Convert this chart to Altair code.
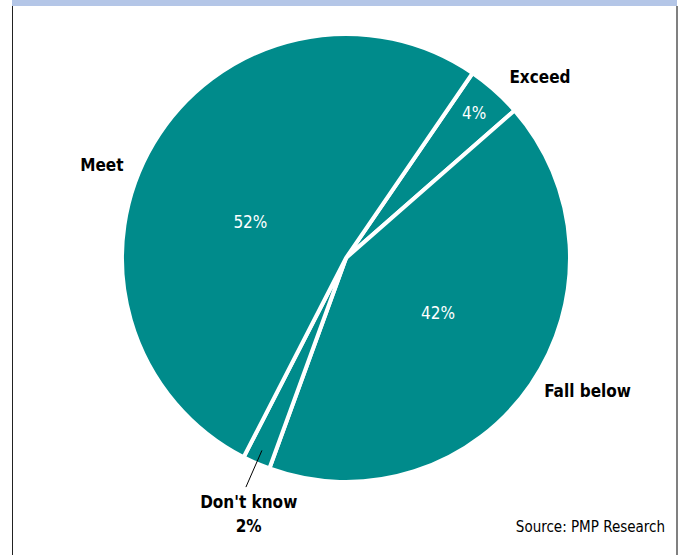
import math
import altair as alt
import pandas as pd

# ---- data ----
categories = ["Exceed", "Fall below", "Don't know", "Meet"]
values = [4, 42, 2, 52]
pct_labels = ["4%", "42%", "2%", "52%"]
source_note = ["Source: PMP Research"]

df = pd.DataFrame({
    "cat": categories,
    "value": values,
    "pct": pct_labels,
    "order": list(range(len(categories))),
})

# ---- style ----
TEAL = "#008B8B"
FONT = "'DejaVu Sans Condensed', Roboto, sans-serif"
CX, CY, R = 346, 258, 224
START = math.radians(34.4)
theta_scale = alt.Scale(domain=[0, 100], range=[START, START + 2 * math.pi])

base = (
    alt.Chart(df)
    .transform_window(v1="sum(value)", sort=[alt.SortField("order")], frame=[None, 0])
    .transform_calculate(v0="datum.v1 - datum.value", mid="datum.v1 - datum.value / 2")
)

arcs = base.mark_arc(radius=R, stroke="white", strokeWidth=4, fill=TEAL).encode(
    theta=alt.Theta("v0:Q", scale=theta_scale),
    theta2="v1:Q",
    x=alt.value(CX),
    y=alt.value(CY),
)


def label(cat, field, radius, dx=0, dy=0, color="black", bold=True, size=17):
    return (
        base.transform_filter(alt.datum.cat == cat)
        .mark_text(
            radius=radius, dx=dx, dy=dy, color=color, font=FONT,
            fontSize=size, fontWeight="bold" if bold else "normal",
            align="center", baseline="middle",
        )
        .encode(
            theta=alt.Theta("mid:Q", scale=theta_scale),
            text=f"{field}:N",
            x=alt.value(CX),
            y=alt.value(CY),
        )
    )


labels = [
    label("Meet", "pct", 102, dx=-8, dy=17, color="white", bold=False),
    label("Fall below", "pct", 108, dx=3, dy=-5, color="white", bold=False),
    label("Exceed", "pct", 193, color="white", bold=False),
    label("Meet", "cat", 261, dx=-20, dy=42),
    label("Exceed", "cat", 265, dx=18, dy=18),
    label("Fall below", "cat", 277, dx=13, dy=-22),
    label("Don't know", "cat", 263, dx=8, dy=4),
    label("Don't know", "pct", 263, dx=8, dy=28),
]

leader = (
    base.transform_filter(alt.datum.cat == "Don't know")
    .transform_calculate(
        ang=f"{START} + datum.mid / 100 * 2 * PI",
    )
    .transform_calculate(
        lx1=f"{CX} + 210 * sin(datum.ang)",
        ly1=f"{CY} - 210 * cos(datum.ang)",
        lx2=f"{CX} + 250 * sin(datum.ang)",
        ly2=f"{CY} - 250 * cos(datum.ang)",
    )
    .mark_rule(color="black", strokeWidth=1)
    .encode(
        x=alt.X("lx1:Q", scale=None),
        y=alt.Y("ly1:Q", scale=None),
        x2="lx2:Q",
        y2="ly2:Q",
    )
)

one = alt.Chart(pd.DataFrame({"note": source_note}))

band = one.mark_rect(color="#B4C6E7").encode(
    x=alt.value(12), x2=alt.value(677), y=alt.value(0), y2=alt.value(6)
)
left_line = one.mark_rule(color="#222222", strokeWidth=1).encode(
    x=alt.value(12.5), y=alt.value(6), y2=alt.value(555)
)
right_line = one.mark_rule(color="#808080", strokeWidth=2).encode(
    x=alt.value(677), y=alt.value(6), y2=alt.value(555)
)
source = one.mark_text(
    font=FONT, fontSize=15, color="black", align="right", baseline="middle"
).encode(text="note:N", x=alt.value(665), y=alt.value(527))

chart = (
    alt.layer(band, left_line, right_line, arcs, *labels, leader, source)
    .properties(width=682, height=555, autosize="none", padding=0, background="white")
    .configure_view(stroke=None)
)

chart.save("out.html", embed_options={"renderer": "svg", "actions": False})
